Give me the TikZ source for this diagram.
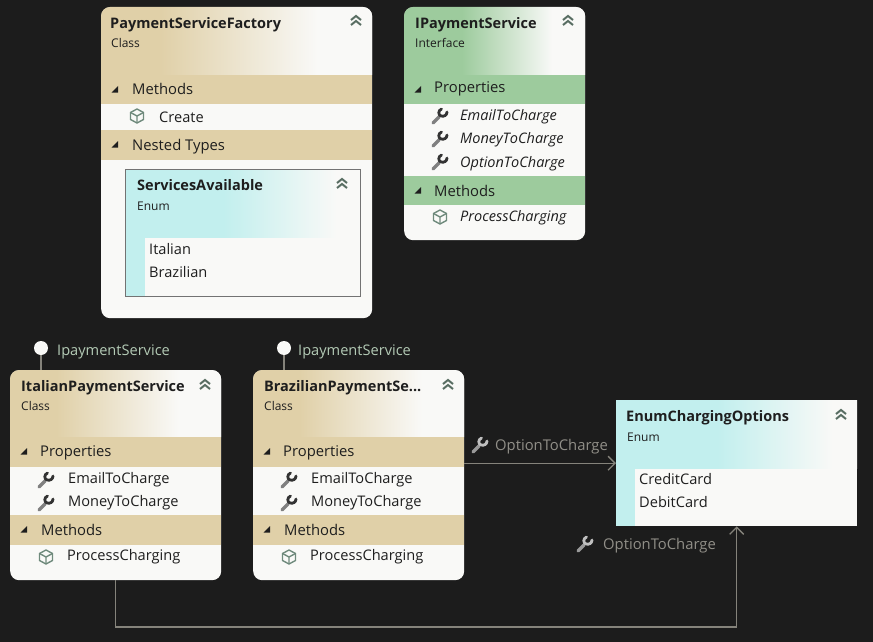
\documentclass[tikz,border=0pt]{standalone}
\usepackage{fontspec}
\setmainfont{Open Sans}
\usetikzlibrary{arrows.meta, positioning, calc}
\definecolor{canvasdark}{HTML}{1C1C1C}
\definecolor{cardwhite}{HTML}{F9F9F7}
\definecolor{bandtan}{HTML}{E0D0A8}
\definecolor{bandgreen}{HTML}{9DCB9D}
\definecolor{headteal}{HTML}{C2EFEE}
\definecolor{inktext}{HTML}{1E1E1E}
\definecolor{linkgrey}{HTML}{85837B}
\definecolor{lollilabel}{HTML}{B4CBB6}
\definecolor{iconsage}{HTML}{6F8A7C}
\pgfdeclarehorizontalshading{tanfade}{100bp}{color(0bp)=(bandtan); color(36bp)=(bandtan); color(65bp)=(cardwhite); color(100bp)=(cardwhite)}
\pgfdeclarehorizontalshading{greenfade}{100bp}{color(0bp)=(bandgreen); color(41bp)=(bandgreen); color(66bp)=(cardwhite); color(100bp)=(cardwhite)}
\pgfdeclarehorizontalshading{tealfade}{100bp}{color(0bp)=(headteal); color(46bp)=(headteal); color(70bp)=(cardwhite); color(100bp)=(cardwhite)}
\tikzset{
  cardbox/.style={fill=cardwhite, rounded corners=9pt, anchor=north west, inner sep=0pt},
  titletext/.style={inktext, anchor=west, inner sep=0pt, yshift=-1pt, font=\fontsize{14.5}{16}\selectfont\bfseries},
  kindtext/.style={inktext, anchor=west, inner sep=0pt, font=\fontsize{12}{14}\selectfont},
  rowtext/.style={inktext, anchor=west, inner sep=0pt, font=\fontsize{14.6}{16}\selectfont},
  bandtext/.style={inktext, anchor=west, inner sep=0pt, font=\fontsize{14.8}{16}\selectfont},
  abstracttext/.style={rowtext, yshift=-1pt, font=\fontsize{14.5}{16}\selectfont\itshape},
  lollitext/.style={lollilabel, anchor=west, inner sep=0pt, yshift=-0.5pt, font=\fontsize{14.6}{16}\selectfont},
  linktext/.style={linkgrey!90!white, anchor=west, inner sep=0pt, yshift=-1pt, font=\fontsize{14.8}{16}\selectfont},
  connector/.style={draw=linkgrey, line width=1.3pt},
  opentip/.style={-{Straight Barb[length=7pt, width=14pt, line width=1.3pt]}},
  lollidot/.style={circle, fill=cardwhite, minimum size=14pt, inner sep=0pt},
  pics/wrenchicon/.style n args={2}{code={
    \draw[#1, line width=3.2pt, line cap=round] (-7,7) -- (-1,1);
    \draw[#2, line width=2.8pt, line cap=round] (1.5,-7) .. controls (-2,-5.5) and (-2,-1) .. (1,0) .. controls (4,1) and (7,-1) .. (7,-4);
  }},
  pics/cubeicon/.style={code={
    \draw[iconsage, line width=1.4pt, line join=round] (0,-7) -- (6.5,-3.5) -- (6.5,3.5) -- (0,7) -- (-6.5,3.5) -- (-6.5,-3.5) -- cycle;
    \draw[iconsage, line width=1.4pt, line join=round] (-6.5,-3.5) -- (0,0) -- (6.5,-3.5) (0,0) -- (0,7);
  }},
  pics/chevronicon/.style={code={
    \draw[iconsage!80!black, line width=2pt] (-5,-1) -- (0,-5) -- (5,-1);
    \draw[iconsage!80!black, line width=2pt] (-5,4) -- (0,0) -- (5,4);
  }},
  pics/expandericon/.style={code={
    \fill[inktext] (3,-3.5) -- (3,3) -- (-3.5,3) -- cycle;
  }},
}
% header with round top corners only
\newcommand{\cardhead}[5]{
  \shade[shading=#5] (#1,#4) -- (#1,#2+9) .. controls (#1,#2+4) and (#1+4,#2) .. (#1+9,#2) -- (#3-9,#2) .. controls (#3-4,#2) and (#3,#2+4) .. (#3,#2+9) -- (#3,#4) -- cycle;
}
\newcommand{\cardband}[5]{
  \fill[#5] (#1,#3) rectangle (#2,#4);
  \pic at (#1+14,#3+14.5) {expandericon};
}

\begin{document}
\begin{tikzpicture}[x=1pt, y=-1pt]
  \fill[canvasdark] (0,0) rectangle (873,642);
  \useasboundingbox (0,0) rectangle (873,642);

  % PaymentServiceFactory
  \node[cardbox, minimum width=271pt, minimum height=311pt] (factory) at (101,7) {};
  \cardhead{101}{7}{372}{75}{tanfade}
  \cardband{101}{372}{75}{104}{bandtan}
  \cardband{101}{372}{130}{160}{bandtan}
  \node[titletext] (factoryTitle) at (110,24) {PaymentServiceFactory};
  \node[kindtext] (factoryKind) at (111,43) {Class};
  \pic at (356,21) {chevronicon};
  \node[bandtext] (factoryMethods) at (132,89) {Methods};
  \pic at (137,116) {cubeicon};
  \node[rowtext] (factoryCreate) at (159,117) {Create};
  \node[bandtext] (factoryNested) at (132,147) {Nested Types};

  % ServicesAvailable inside the factory
  \shade[shading=tealfade] (125,169) rectangle (360,237);
  \fill[headteal] (125,237) rectangle (145,296);
  \node[draw=black!55, line width=1.3pt, minimum width=235pt, minimum height=127pt, anchor=north west, inner sep=0pt] (services) at (125,169) {};
  \node[titletext] (servicesTitle) at (137,184) {ServicesAvailable};
  \node[kindtext] (servicesKind) at (137,206) {Enum};
  \pic at (342,184) {chevronicon};
  \node[rowtext] (servicesItalian) at (149,249) {Italian};
  \node[rowtext] (servicesBrazilian) at (149,272) {Brazilian};

  % IPaymentService
  \node[cardbox, minimum width=181pt, minimum height=233pt] (ipayment) at (404,7) {};
  \cardhead{404}{7}{585}{75}{greenfade}
  \cardband{404}{585}{75}{104}{bandgreen}
  \cardband{404}{585}{176}{205}{bandgreen}
  \node[titletext] (ipaymentTitle) at (415,24) {IPaymentService};
  \node[kindtext] (ipaymentKind) at (415,43) {Interface};
  \pic at (568,21) {chevronicon};
  \node[bandtext] (ipaymentProps) at (434,89) {Properties};
  \pic at (440,116) {wrenchicon={black!50}{black!80}};
  \node[abstracttext] (ipaymentEmail) at (460,116) {EmailToCharge};
  \pic at (440,139) {wrenchicon={black!50}{black!80}};
  \node[abstracttext] (ipaymentMoney) at (460,139) {MoneyToCharge};
  \pic at (440,162) {wrenchicon={black!50}{black!80}};
  \node[abstracttext] (ipaymentOption) at (460,163) {OptionToCharge};
  \node[bandtext] (ipaymentMethods) at (434,191) {Methods};
  \pic at (440,217) {cubeicon};
  \node[abstracttext] (ipaymentProcess) at (460,217) {ProcessCharging};

  % ItalianPaymentService
  \node[cardbox, minimum width=211pt, minimum height=210pt] (italian) at (10,370) {};
  \cardhead{10}{370}{221}{437}{tanfade}
  \cardband{10}{221}{437}{467}{bandtan}
  \cardband{10}{221}{515}{545}{bandtan}
  \node[titletext] (italianTitle) at (21,387) {ItalianPaymentService};
  \node[kindtext] (italianKind) at (21,406) {Class};
  \pic at (205,385) {chevronicon};
  \node[bandtext] (italianProps) at (40,453) {Properties};
  \pic at (46,480) {wrenchicon={black!50}{black!80}};
  \node[rowtext] (italianEmail) at (68,480) {EmailToCharge};
  \pic at (46,503) {wrenchicon={black!50}{black!80}};
  \node[rowtext] (italianMoney) at (68,503) {MoneyToCharge};
  \node[bandtext] (italianMethods) at (41,530) {Methods};
  \pic at (46,557) {cubeicon};
  \node[rowtext] (italianProcess) at (67,557) {ProcessCharging};

  % BrazilianPaymentService
  \node[cardbox, minimum width=211pt, minimum height=210pt] (brazilian) at (253,370) {};
  \cardhead{253}{370}{464}{437}{tanfade}
  \cardband{253}{464}{437}{467}{bandtan}
  \cardband{253}{464}{515}{545}{bandtan}
  \node[titletext] (brazilianTitle) at (264,387) {BrazilianPaymentSe...};
  \node[kindtext] (brazilianKind) at (264,406) {Class};
  \pic at (448,385) {chevronicon};
  \node[bandtext] (brazilianProps) at (283,453) {Properties};
  \pic at (289,480) {wrenchicon={black!50}{black!80}};
  \node[rowtext] (brazilianEmail) at (311,480) {EmailToCharge};
  \pic at (289,503) {wrenchicon={black!50}{black!80}};
  \node[rowtext] (brazilianMoney) at (311,503) {MoneyToCharge};
  \node[bandtext] (brazilianMethods) at (284,530) {Methods};
  \pic at (289,557) {cubeicon};
  \node[rowtext] (brazilianProcess) at (310,557) {ProcessCharging};

  % EnumChargingOptions
  \node[fill=cardwhite, minimum width=241pt, minimum height=126pt, anchor=north west, inner sep=0pt] (enumOptions) at (616,400) {};
  \shade[shading=tealfade] (616,400) rectangle (857,468);
  \fill[headteal] (616,468) rectangle (635,526);
  \node[titletext] (enumTitle) at (626,417) {EnumChargingOptions};
  \node[kindtext] (enumKind) at (627,437) {Enum};
  \pic at (841,415) {chevronicon};
  \node[rowtext] (enumCredit) at (639,479) {CreditCard};
  \node[rowtext] (enumDebit) at (639,502) {DebitCard};

  % lollipops
  \node[lollidot] (italianDot) at (41,348) {};
  \node[lollitext] (italianIface) at (57,351) {IpaymentService};
  \draw[connector] (italianDot) -- (italianDot |- italian.north);
  \node[lollidot] (brazilianDot) at (284,348) {};
  \node[lollitext] (brazilianIface) at (298,351) {IpaymentService};
  \draw[connector] (brazilianDot) -- (brazilianDot |- brazilian.north);

  % associations
  \coordinate (lowerRun) at (400,627);
  \draw[connector, opentip] (enumOptions.west -| brazilian.east) -- (enumOptions.west);
  \draw[connector, opentip] (italian.south) |- (lowerRun) -| (enumOptions.south);
  \pic at (480,445) {wrenchicon={black!40!white}{black!25!white}};
  \node[linktext] (optionLabelA) at (495,446) {OptionToCharge};
  \pic at (585,544) {wrenchicon={black!40!white}{black!25!white}};
  \node[linktext] (optionLabelB) at (603,545) {OptionToCharge};
\end{tikzpicture}
\end{document}
